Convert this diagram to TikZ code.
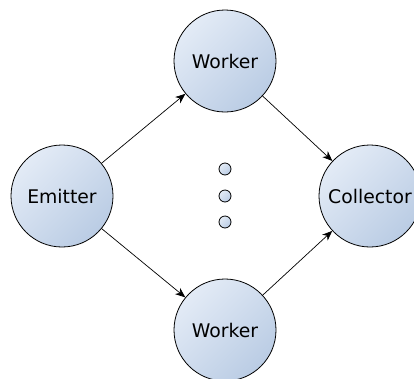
\documentclass[tikz,border=0pt]{standalone}
\usepackage{fontspec}
\setmainfont{DejaVu Sans}
\usetikzlibrary{arrows.meta}
\definecolor{nlight}{HTML}{E3EBF6}
\definecolor{ndark}{HTML}{BACCE4}
\tikzset{
  proc/.style={circle, draw=black, line width=0.8pt, minimum size=102pt, inner sep=0pt,
    top color=nlight, bottom color=ndark, shading angle=45, font=\fontsize{18.8}{20}\selectfont},
  dotc/.style={circle, draw=black, line width=0.8pt, minimum size=12pt, inner sep=0pt,
    top color=nlight, bottom color=ndark, shading angle=45},
  conn/.style={line width=0.7pt, -{Stealth[length=10pt,width=8pt,inset=3pt]}}
}
\begin{document}
\begin{tikzpicture}[x=1pt,y=-1pt]
\useasboundingbox (0,0) rectangle (414,378);
\clip (0,0) rectangle (414,378);
\node[proc] (em) at (62,196) {Emitter};
\node[proc] (w1) at (225,61) {Worker};
\node[proc] (w2) at (225,330) {Worker};
\node[proc] (co) at (370,196) {Collector};
\node[dotc] (d1) at (225,169) {};
\node[dotc] (d2) at (225,196) {};
\node[dotc] (d3) at (225,222) {};
\draw[conn] (em) -- (w1);
\draw[conn] (em) -- (w2);
\draw[conn] (w1) -- (co);
\draw[conn] (w2) -- (co);
\end{tikzpicture}
\end{document}
